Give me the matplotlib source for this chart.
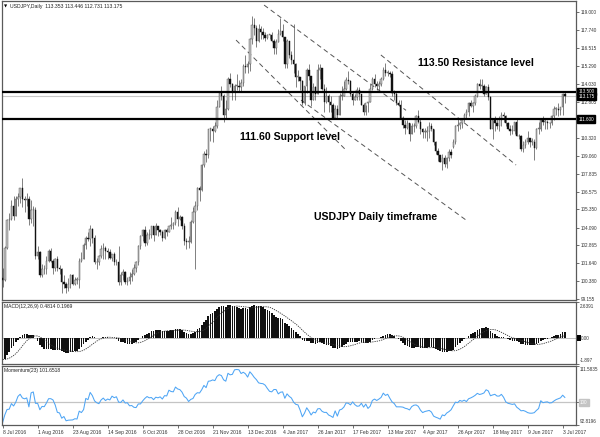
import numpy as np
import pandas as pd
import matplotlib
matplotlib.use("Agg")
import matplotlib.pyplot as plt
import matplotlib.transforms as mtransforms

# ---------------- data ----------------
# closes before the first visible bar (Apr 1 - Jul 7 2016), used only for indicator warm-up
pre_closes = [111.6, 111.4, 110.3, 109.8, 108.1, 108.1, 108.0, 108.6, 109.4, 109.4, 108.8,
              108.9, 109.2, 109.8, 109.4, 111.8, 111.1, 111.4, 111.4, 108.1, 106.3,
              106.4, 106.1, 107.0, 107.2, 107.1, 108.4, 109.3, 108.5, 109.0, 108.6, 109.1,
              109.0, 110.2, 109.9, 110.2, 109.3, 109.9, 110.2, 109.8, 110.2, 111.4, 110.7,
              109.5, 108.9, 106.5, 107.5, 107.3, 106.9, 107.0, 107.0, 106.0, 106.1, 106.0,
              104.2, 104.1, 104.6, 104.8, 104.6, 106.2, 102.2, 101.9, 102.4, 102.7, 103.2,
              102.5, 102.6, 102.0, 101.3, 100.6]

opens = [
    # Jul 2016
    100.6, 100.5, 102.7, 104.6, 104.7, 105.6, 104.9, 106.1, 106.2, 106.8, 106.1, 106.0, 106.1, 104.7, 105.3, 105.3,
    # Aug
    102.1, 102.4, 100.8, 101.2, 101.2, 101.8, 102.5, 101.8, 101.3, 101.9, 101.3, 101.2, 100.3, 100.2, 99.9, 100.2,
    100.8, 100.2, 100.5, 100.5, 101.8, 101.9, 102.9,
    # Sep
    103.4, 103.3, 104.0, 103.4, 101.7, 101.7, 102.1, 102.6, 102.7, 102.5, 102.4, 102.0, 102.3, 101.7, 101.7, 100.3,
    100.8, 101.0, 100.3, 100.4, 100.7, 100.9,
    # Oct
    101.3, 101.7, 102.8, 103.5, 103.9, 103.0, 103.6, 103.6, 104.2, 103.6, 104.2, 103.9, 103.8, 103.4, 103.9, 103.8,
    104.2, 104.3, 104.4, 105.2, 104.7,
    # Nov
    104.8, 104.2, 103.2, 103.1, 103.1, 104.5, 105.2, 105.6, 106.8, 106.7, 108.4, 109.2, 109.1, 110.9, 110.9, 110.8,
    111.1, 112.4, 113.4, 113.2, 111.9, 112.3,
    # Dec
    114.4, 114.0, 113.5, 113.9, 113.9, 113.8, 114.1, 115.3, 115.2, 115.4, 117.1, 118.1, 117.9, 117.0, 117.8, 117.6,
    117.4, 117.2, 117.4, 117.4, 117.0, 116.5,
    # Jan 2017
    116.9, 117.5, 117.7, 117.3, 115.4, 117.0, 116.0, 115.7, 115.4, 114.5, 114.5, 114.2, 112.7, 113.9, 115.0, 114.6,
    112.9, 113.8, 113.3, 115.0, 115.1, 113.7,
    # Feb
    112.8, 113.2, 112.8, 112.6, 111.7, 112.3, 111.9, 113.2, 113.2, 113.7, 114.3, 114.2, 113.3, 112.9, 113.1, 113.6,
    113.3, 112.6, 112.1, 112.7,
    # Mar
    112.8, 113.7, 114.4, 114.0, 113.9, 114.0, 114.4, 115.0, 114.8, 114.8, 114.7, 113.4, 113.3, 112.7, 112.6, 111.7,
    111.2, 111.0, 111.3, 110.6, 111.1, 111.1, 111.8,
    # Apr
    111.4, 110.9, 110.7, 110.7, 110.8, 111.1, 110.9, 110.0, 109.4, 109.1, 108.6, 108.9, 108.5, 108.9, 109.3, 109.7,
    110.0, 111.1, 111.2, 111.3,
    # May
    111.5, 111.9, 112.1, 112.7, 112.5, 112.7, 113.2, 114.0, 113.9, 113.9, 113.3, 113.8, 113.1, 110.9, 111.5, 111.3,
    111.1, 111.5, 111.9, 111.8, 111.3, 110.9, 110.8,
    # Jun
    110.8, 111.4, 110.4, 110.4, 109.5, 109.8, 110.0, 110.3, 110.0, 110.0, 109.6, 110.9, 110.9, 111.5, 111.4, 111.4,
    111.3, 111.3, 111.8, 112.3, 112.3, 112.2,
    # Jul
    112.4, 113.353]

highs = [
    101.3, 102.8, 104.7, 105.1, 106.0, 106.3, 106.3, 106.5, 106.8, 107.5, 106.3, 106.5, 106.3, 106.0, 105.6, 105.5,
    102.8, 102.5, 101.6, 101.5, 102.1, 102.6, 102.7, 101.9, 102.0, 102.1, 101.5, 101.3, 100.8, 100.3, 100.6, 100.9,
    100.9, 100.7, 100.7, 102.0, 102.4, 103.0, 103.5,
    103.8, 104.3, 104.1, 103.6, 102.0, 102.2, 102.9, 103.0, 102.8, 102.7, 102.6, 102.3, 102.4, 101.9, 102.8, 101.0,
    101.2, 101.1, 100.7, 101.0, 101.2, 101.6,
    101.8, 102.9, 103.6, 104.0, 104.2, 103.8, 104.0, 104.2, 104.2, 104.4, 104.2, 104.0, 103.9, 104.0, 104.1, 104.2,
    104.8, 104.5, 105.3, 105.5, 105.0,
    104.9, 104.4, 103.4, 103.5, 104.6, 105.5, 105.9, 106.9, 107.0, 108.5, 109.4, 109.5, 110.9, 111.0, 111.1, 111.4,
    112.9, 113.5, 113.9, 113.3, 112.9, 114.5,
    114.8, 114.1, 114.0, 114.7, 114.3, 114.4, 115.4, 116.0, 115.6, 117.2, 118.7, 118.6, 118.1, 118.2, 118.0, 117.9,
    117.6, 117.5, 117.5, 117.6, 117.1, 117.1,
    117.8, 118.6, 118.2, 117.3, 117.1, 117.0, 116.3, 118.2, 115.5, 115.0, 114.5, 114.3, 113.9, 115.1, 115.4, 114.6,
    114.1, 113.9, 115.4, 115.4, 115.1, 114.0,
    113.8, 113.3, 113.2, 112.7, 112.6, 112.6, 113.4, 113.9, 114.2, 114.5, 114.9, 114.3, 113.5, 113.3, 113.8, 113.8,
    113.3, 112.7, 112.6, 112.8,
    114.0, 114.5, 114.7, 114.2, 114.2, 114.5, 115.2, 115.5, 115.0, 114.9, 114.9, 113.6, 113.5, 112.9, 112.9, 111.8,
    111.5, 111.5, 111.3, 111.3, 111.3, 111.9, 112.2,
    111.6, 111.0, 111.0, 111.1, 111.4, 111.3, 110.9, 110.1, 109.6, 109.1, 109.2, 109.1, 109.0, 109.5, 109.5, 110.2,
    111.2, 111.7, 111.4, 111.6,
    112.0, 112.3, 112.8, 112.9, 112.8, 113.3, 114.1, 114.4, 114.4, 114.0, 113.9, 114.0, 113.2, 111.5, 111.8, 111.6,
    111.8, 112.1, 112.1, 111.9, 111.4, 111.2, 111.2,
    111.4, 111.7, 110.6, 110.5, 110.1, 110.2, 110.8, 110.3, 110.3, 110.2, 111.0, 111.4, 111.6, 111.8, 111.7, 111.5,
    111.4, 111.9, 112.5, 112.4, 112.7, 112.4,
    113.4, 113.446]

lows = [
    99.98, 100.4, 102.6, 103.9, 104.6, 104.6, 104.9, 105.6, 105.8, 105.5, 105.2, 105.6, 104.3, 104.4, 104.2, 101.9,
    101.9, 100.7, 100.7, 100.9, 100.9, 101.7, 101.7, 100.9, 101.1, 101.1, 100.9, 99.6, 99.9, 99.6, 99.7, 99.9,
    100.1, 100.1, 100.2, 99.9, 101.7, 101.9, 102.6,
    103.2, 102.8, 103.0, 101.6, 101.2, 101.5, 102.0, 101.9, 101.9, 101.9, 101.9, 101.8, 101.5, 101.5, 100.1, 100.1,
    100.5, 100.2, 100.1, 100.2, 100.4, 100.8,
    101.0, 101.5, 102.6, 103.2, 102.8, 102.9, 103.3, 103.4, 103.2, 103.6, 103.5, 103.6, 103.2, 103.3, 103.5, 103.8,
    104.0, 104.0, 104.3, 104.2, 104.6,
    104.0, 102.9, 102.6, 102.7, 103.0, 104.4, 101.2, 105.3, 105.9, 106.6, 108.3, 108.6, 108.9, 110.1, 110.0, 110.7,
    111.0, 112.4, 112.9, 111.4, 111.6, 112.2,
    113.8, 112.9, 112.9, 113.6, 113.5, 113.5, 113.9, 114.8, 114.8, 114.9, 116.8, 117.4, 116.6, 116.9, 117.1, 117.1,
    117.0, 117.1, 117.1, 116.9, 116.1, 116.1,
    116.9, 117.4, 117.0, 115.1, 115.1, 115.8, 115.4, 114.8, 113.8, 114.2, 113.6, 112.6, 112.6, 113.4, 114.3, 112.5,
    112.9, 112.9, 113.3, 114.4, 113.6, 112.1,
    112.7, 112.1, 112.1, 111.6, 111.6, 111.6, 111.9, 112.9, 113.2, 113.6, 114.0, 113.2, 112.6, 112.9, 112.9, 112.9,
    112.6, 111.9, 111.9, 112.1,
    112.8, 113.6, 113.8, 113.6, 113.6, 113.9, 114.3, 114.6, 114.6, 114.5, 113.2, 112.9, 112.6, 112.5, 111.6, 111.0,
    110.6, 110.9, 110.1, 110.6, 110.7, 111.0, 111.3,
    110.6, 110.3, 110.3, 110.1, 110.3, 110.8, 109.8, 109.2, 108.7, 108.6, 108.1, 108.3, 108.2, 108.7, 108.9, 109.6,
    109.9, 110.8, 110.9, 111.0,
    111.4, 111.6, 111.8, 112.4, 112.1, 112.6, 113.1, 113.7, 113.6, 113.2, 113.3, 112.9, 110.9, 110.2, 110.8, 110.9,
    110.8, 111.1, 111.4, 111.1, 110.9, 110.5, 110.6,
    110.6, 110.4, 110.2, 109.4, 109.3, 109.6, 109.9, 109.7, 109.8, 108.8, 109.5, 110.6, 110.8, 111.2, 110.9, 110.9,
    111.0, 111.2, 111.5, 111.9, 111.8, 111.9,
    111.9, 112.731]

closes = [
    100.5, 102.7, 104.6, 104.7, 105.6, 104.9, 106.1, 106.2, 106.8, 106.1, 106.0, 106.1, 104.7, 105.3, 105.3, 102.1,
    102.4, 100.8, 101.2, 101.2, 101.8, 102.5, 101.8, 101.3, 101.9, 101.3, 101.2, 100.3, 100.2, 99.9, 100.2, 100.8,
    100.2, 100.5, 100.5, 101.8, 101.9, 102.9, 103.4,
    103.3, 104.0, 103.4, 101.7, 101.7, 102.1, 102.6, 102.7, 102.5, 102.4, 102.0, 102.3, 101.7, 101.7, 100.3, 100.8,
    101.0, 100.3, 100.4, 100.7, 100.9, 101.3,
    101.7, 102.8, 103.5, 103.9, 103.0, 103.6, 103.6, 104.2, 103.6, 104.2, 103.9, 103.8, 103.4, 103.9, 103.8, 104.2,
    104.3, 104.4, 105.2, 104.7, 104.8,
    104.2, 103.2, 103.1, 103.1, 104.5, 105.2, 105.6, 106.8, 106.7, 108.4, 109.2, 109.1, 110.9, 110.9, 110.8, 111.1,
    112.4, 113.4, 113.2, 111.9, 112.3, 114.4,
    114.0, 113.5, 113.9, 113.9, 113.8, 114.1, 115.3, 115.2, 115.4, 117.1, 118.1, 117.9, 117.0, 117.8, 117.6, 117.4,
    117.2, 117.4, 117.4, 117.0, 116.5, 116.9,
    117.5, 117.7, 117.3, 115.4, 117.0, 116.0, 115.7, 115.4, 114.5, 114.5, 114.2, 112.7, 113.9, 115.0, 114.6, 112.9,
    113.8, 113.3, 115.0, 115.1, 113.7, 112.8,
    113.2, 112.8, 112.6, 111.7, 112.3, 111.9, 113.2, 113.2, 113.7, 114.3, 114.2, 113.3, 112.9, 113.1, 113.6, 113.3,
    112.6, 112.1, 112.7, 112.8,
    113.7, 114.4, 114.0, 113.9, 114.0, 114.4, 115.0, 114.8, 114.8, 114.7, 113.4, 113.3, 112.7, 112.6, 111.7, 111.2,
    111.0, 111.3, 110.6, 111.1, 111.1, 111.8, 111.4,
    110.9, 110.7, 110.7, 110.8, 111.1, 110.9, 110.0, 109.4, 109.1, 108.6, 108.9, 108.5, 108.9, 109.3, 109.1, 110.0,
    111.1, 111.2, 111.3, 111.5,
    111.9, 112.1, 112.7, 112.5, 112.7, 113.2, 114.0, 113.9, 113.9, 113.3, 113.8, 113.1, 110.9, 111.5, 111.3, 111.1,
    111.5, 111.9, 111.8, 111.3, 110.9, 110.8, 110.8,
    111.4, 110.4, 110.4, 109.5, 109.8, 110.0, 110.3, 110.0, 110.0, 109.6, 110.9, 110.9, 111.5, 111.4, 111.4, 111.3,
    111.3, 111.8, 112.3, 112.3, 112.2, 112.4,
    113.35, 113.175]

date_labels = ["8 Jul 2016", "1 Aug 2016", "23 Aug 2016", "14 Sep 2016", "6 Oct 2016", "28 Oct 2016",
               "21 Nov 2016", "13 Dec 2016", "4 Jan 2017", "26 Jan 2017", "17 Feb 2017", "13 Mar 2017",
               "4 Apr 2017", "26 Apr 2017", "18 May 2017", "9 Jun 2017", "3 Jul 2017"]
date_label_bars = [0, 16, 32, 48, 64, 80, 96, 112, 128, 144, 160, 176, 192, 208, 224, 240, 256]

price_ticks = [119.000, 117.740, 116.515, 115.290, 114.030, 112.805, 110.320, 109.060, 107.835,
               106.575, 105.350, 104.090, 102.865, 101.640, 100.380, 99.155]
resistance = 113.50
support = 111.60
last_price = 113.175
header_ohlc = "113.353 113.446 112.731 113.175"

# trend-channel lines: (bar index, price) start and end
channel_lines = [((119.5, 119.48), (184.4, 112.2)),
                 ((106.7, 117.06), (156.9, 109.46)),
                 ((172.9, 116.03), (234.7, 108.42)),
                 ((136.4, 112.91), (211.8, 104.62))]

# ---------------- indicators ----------------
all_close = pd.Series(pre_closes + closes, dtype=float)
ema12 = all_close.ewm(span=12, adjust=False).mean()
ema26 = all_close.ewm(span=26, adjust=False).mean()
macd_all = ema12 - ema26
signal_all = macd_all.rolling(9).mean()
mom_all = all_close / all_close.shift(23) * 100.0
k = len(pre_closes)
macd_v = macd_all.values[k:]
signal_v = signal_all.values[k:]
mom_v = mom_all.values[k:]

o = np.array(opens); h = np.array(highs); l = np.array(lows); c = np.array(closes)
n = len(c)
x = np.arange(n)

# ---------------- figure ----------------
plt.rcParams['font.family'] = ['Liberation Sans', 'DejaVu Sans']
W, H = 600, 437
fig = plt.figure(figsize=(6, 4.37), dpi=100)

def box(top, bottom, left=2, right=576):
    return [left / W, 1 - bottom / H, (right - left) / W, (bottom - top) / H]

ax = fig.add_axes(box(1, 300))
axm = fig.add_axes(box(302, 364))
axo = fig.add_axes(box(366, 425))

xlo, xhi = -0.3, 262.1
spine_c = '#5a5a5a'
for a in (ax, axm, axo):
    a.set_xlim(xlo, xhi)
    for s in a.spines.values():
        s.set_color(spine_c)
        s.set_linewidth(0.9)
    a.yaxis.tick_right()
    a.tick_params(axis='y', length=2, width=0.5, colors='#333333', labelsize=3.3, pad=1.5)
    a.tick_params(axis='x', length=0)
    a.set_xticks([])

# candles
up = c >= o
ax.vlines(x, l, h, color='#3a3a3a', lw=0.45, zorder=2)
bot = np.minimum(o, c)
hgt = np.maximum(np.abs(c - o), 0.05)
ax.bar(x[up], hgt[up], bottom=bot[up], width=0.62, color='#c4c4c4', edgecolor='#4a4a4a', lw=0.3, zorder=3)
ax.bar(x[~up], hgt[~up], bottom=bot[~up], width=0.62, color='#111111', edgecolor='#111111', lw=0.3, zorder=3)

ax.set_ylim(99.09, 119.76)
ax.set_yticks(price_ticks)
ax.set_yticklabels([f"{v:.3f}" for v in price_ticks])

ax.axhline(last_price, color='#c8c8c8', lw=0.8, zorder=1)
ax.axhline(resistance, color='black', lw=1.6, zorder=4)
ax.axhline(support, color='black', lw=1.6, zorder=4)

for (x0, y0), (x1, y1) in channel_lines:
    ax.plot([x0, x1], [y0, y1], color='#555555', lw=0.7, ls=(0, (5, 3.5)), zorder=1)

trans = mtransforms.blended_transform_factory(ax.transAxes, ax.transData)
for val, txt in [(resistance, "113.500"), (last_price, "113.175"), (support, "111.600")]:
    ax.text(1.004, val, txt, transform=trans, fontsize=3.3, color='white', va='center', ha='left',
            bbox=dict(boxstyle='square,pad=0.25', fc='black', ec='black'), zorder=6, clip_on=False)

def ftext(px, py, s, **kw):
    fig.text(px / W, 1 - py / H, s, **kw)

ftext(418, 63.5, "113.50 Resistance level", fontsize=7.6, fontweight='bold', va='center', ha='left')
ftext(240, 137, "111.60 Support level", fontsize=7.6, fontweight='bold', va='center', ha='left')
ftext(314, 217.5, "USDJPY Daily timeframe", fontsize=7.6, fontweight='bold', va='center', ha='left')
ftext(4, 6.5, "\u25bc", fontsize=3.0, va='center', ha='left', family=['DejaVu Sans'])
ftext(10, 6.5, "USDJPY,Daily  " + header_ohlc, fontsize=3.7, va='center', ha='left', color='#222222')

# MACD
axm.set_ylim(-1.897, 2.6391)
axm.axhline(0, color='#c0c0c0', lw=0.7, zorder=1)
axm.bar(x, macd_v, width=0.72, color='#111111', lw=0, zorder=2)
axm.plot(x, signal_v, color='#333333', lw=0.6, ls=(0, (1.5, 1.2)), zorder=3)
axm.set_yticks([2.6391, 0.0, -1.897])
axm.set_yticklabels([])
ftext(4, 306.7, "MACD(12,26,9) 0.4814 0.1969", fontsize=3.6, va='center', ha='left', color='#222222')
ftext(580, 306.5, "2.6391", fontsize=3.3, va='center', ha='left', color='#333333')
ftext(581, 338.2, "0.00", fontsize=3.3, va='center', ha='left', color='#333333')
fig.patches.append(plt.Rectangle((577 / W, 1 - 341 / H), 4 / W, 6 / H, transform=fig.transFigure,
                                 fc='black', ec='none'))
ftext(580, 360, "-1.897", fontsize=3.3, va='center', ha='left', color='#333333')

# Momentum
axo.set_ylim(92.8196, 111.5835)
axo.axhline(100, color='#c4c4c4', lw=0.9, zorder=1)
axo.plot(x, mom_v, color='#4ea5f5', lw=0.75, zorder=2)
axo.set_yticks([111.5835, 100, 92.8196])
axo.set_yticklabels([])
ftext(4, 370.5, "Momentum(23) 101.6518", fontsize=3.6, va='center', ha='left', color='#222222')
ftext(580, 369.5, "111.5835", fontsize=3.3, va='center', ha='left', color='#333333')
ftext(580, 402.8, "100", fontsize=3.3, va='center', ha='left', color='#ffffff',
      bbox=dict(boxstyle='square,pad=0.25', fc='#c4c4c4', ec='#c4c4c4'))
ftext(580, 421.5, "92.8196", fontsize=3.3, va='center', ha='left', color='#333333')

axo.set_xticks(date_label_bars)
axo.set_xticklabels(date_labels, ha='left')
axo.tick_params(axis='x', length=2, width=0.5, colors='#333333', labelsize=3.6, pad=1.8)

fig.savefig("out.png", dpi=100, facecolor='white')
